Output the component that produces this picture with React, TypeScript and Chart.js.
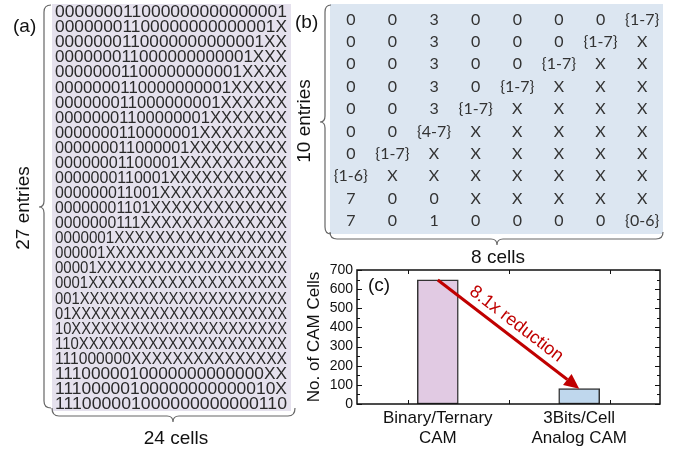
import React, { useEffect, useRef } from "react";
import { Chart, registerables } from "chart.js";

Chart.register(...registerables);

// ---------- Data ----------
const binaryEntries: string[] = [
  "000000011000000000000001",
  "00000001100000000000001X",
  "0000000110000000000001XX",
  "000000011000000000001XXX",
  "00000001100000000001XXXX",
  "0000000110000000001XXXXX",
  "000000011000000001XXXXXX",
  "00000001100000001XXXXXXX",
  "0000000110000001XXXXXXXX",
  "000000011000001XXXXXXXXX",
  "00000001100001XXXXXXXXXX",
  "0000000110001XXXXXXXXXXX",
  "000000011001XXXXXXXXXXXX",
  "00000001101XXXXXXXXXXXXX",
  "0000000111XXXXXXXXXXXXXX",
  "0000001XXXXXXXXXXXXXXXXX",
  "000001XXXXXXXXXXXXXXXXXX",
  "00001XXXXXXXXXXXXXXXXXXX",
  "0001XXXXXXXXXXXXXXXXXXXX",
  "001XXXXXXXXXXXXXXXXXXXXX",
  "01XXXXXXXXXXXXXXXXXXXXXX",
  "10XXXXXXXXXXXXXXXXXXXXXX",
  "110XXXXXXXXXXXXXXXXXXXXX",
  "111000000XXXXXXXXXXXXXXX",
  "1110000010000000000000XX",
  "11100000100000000000010X",
  "111000001000000000000110",
];

const analogEntries: string[][] = [
  ["0", "0", "3", "0", "0", "0", "0", "{1-7}"],
  ["0", "0", "3", "0", "0", "0", "{1-7}", "X"],
  ["0", "0", "3", "0", "0", "{1-7}", "X", "X"],
  ["0", "0", "3", "0", "{1-7}", "X", "X", "X"],
  ["0", "0", "3", "{1-7}", "X", "X", "X", "X"],
  ["0", "0", "{4-7}", "X", "X", "X", "X", "X"],
  ["0", "{1-7}", "X", "X", "X", "X", "X", "X"],
  ["{1-6}", "X", "X", "X", "X", "X", "X", "X"],
  ["7", "0", "0", "X", "X", "X", "X", "X"],
  ["7", "0", "1", "0", "0", "0", "0", "{0-6}"],
];

const categories: string[][] = [
  ["Binary/Ternary", "CAM"],
  ["3Bits/Cell", "Analog CAM"],
];
const cellCounts: number[] = [648, 80];
const barPositions: number[] = [0.8, 2.2];
const xMinorTicks: number[] = [0.5, 1.5, 2.5];
const barColors: string[] = ["#e1cae3", "#bfd7ed"];
const reductionLabel = "8.1x reduction";

const FONT = "'Liberation Sans', Arial, sans-serif";

function vBrace(x: number, y1: number, y2: number, tipX: number, tipY: number, curl: number) {
  return `M ${x + curl} ${y1} Q ${x} ${y1} ${x} ${y1 + 7} L ${x} ${tipY - 6} Q ${x} ${tipY} ${tipX} ${tipY} Q ${x} ${tipY} ${x} ${tipY + 6} L ${x} ${y2 - 7} Q ${x} ${y2} ${x + curl} ${y2}`;
}
function hBrace(y: number, x1: number, x2: number, tipX: number, tipY: number, curl: number) {
  return `M ${x1} ${y - curl} Q ${x1} ${y} ${x1 + 7} ${y} L ${tipX - 6} ${y} Q ${tipX} ${y} ${tipX} ${tipY} Q ${tipX} ${y} ${tipX + 6} ${y} L ${x2 - 7} ${y} Q ${x2} ${y} ${x2} ${y - curl}`;
}

export default function App() {
  const canvasRef = useRef<HTMLCanvasElement | null>(null);

  useEffect(() => {
    if (!canvasRef.current) return;
    const framePlugin = {
      id: "framePlugin",
      afterDraw(chart: any) {
        const { ctx, chartArea } = chart;
        const { left, right, top, bottom } = chartArea;
        const xs = chart.scales.x;
        const ys = chart.scales.y;
        ctx.save();
        // frame
        ctx.strokeStyle = "#111";
        ctx.lineWidth = 1.5;
        ctx.strokeRect(left, top, right - left, bottom - top);
        // y ticks
        ctx.lineWidth = 1;
        for (let v = 0; v <= 700; v += 50) {
          const y = Math.round(ys.getPixelForValue(v)) + 0.5;
          const len = v % 100 === 0 ? 5 : 3;
          ctx.beginPath();
          ctx.moveTo(left, y);
          ctx.lineTo(left + len, y);
          ctx.moveTo(right, y);
          ctx.lineTo(right - len, y);
          ctx.stroke();
        }
        // x ticks
        xMinorTicks.forEach((v) => {
          const x = Math.round(xs.getPixelForValue(v)) + 0.5;
          ctx.beginPath();
          ctx.moveTo(x, bottom);
          ctx.lineTo(x, bottom - 4);
          ctx.moveTo(x, top);
          ctx.lineTo(x, top + 4);
          ctx.stroke();
        });
        // arrow
        const x1 = xs.getPixelForValue(barPositions[0]);
        const y1 = ys.getPixelForValue(cellCounts[0]);
        const x2 = xs.getPixelForValue(barPositions[1]);
        const y2 = ys.getPixelForValue(cellCounts[1]);
        const ang = Math.atan2(y2 - y1, x2 - x1);
        const head = 15;
        const hw = 7;
        const bx = x2 - head * Math.cos(ang);
        const by = y2 - head * Math.sin(ang);
        ctx.strokeStyle = "#c00000";
        ctx.fillStyle = "#c00000";
        ctx.lineWidth = 3;
        ctx.beginPath();
        ctx.moveTo(x1, y1);
        ctx.lineTo(bx, by);
        ctx.stroke();
        ctx.beginPath();
        ctx.moveTo(x2, y2);
        ctx.lineTo(bx + hw * Math.sin(ang), by - hw * Math.cos(ang));
        ctx.lineTo(bx - hw * Math.sin(ang), by + hw * Math.cos(ang));
        ctx.closePath();
        ctx.fill();
        // label
        const mx = (x1 + x2) / 2 + 13 * Math.sin(ang);
        const my = (y1 + y2) / 2 - 13 * Math.cos(ang);
        ctx.translate(mx, my);
        ctx.rotate(ang);
        ctx.font = `18px ${FONT}`;
        ctx.textAlign = "center";
        ctx.textBaseline = "middle";
        ctx.fillText(reductionLabel, 0, 0);
        ctx.restore();
        // (c)
        ctx.save();
        ctx.fillStyle = "#111";
        ctx.font = `19px ${FONT}`;
        ctx.textAlign = "left";
        ctx.textBaseline = "middle";
        ctx.fillText("(c)", left + 11, top + 16);
        ctx.restore();
      },
    };

    const chart = new Chart(canvasRef.current, {
      type: "bar",
      data: {
        datasets: [
          {
            data: barPositions.map((x, i) => ({ x, y: cellCounts[i] })),
            backgroundColor: barColors,
            borderColor: "#333",
            borderWidth: 1.5,
            borderSkipped: false,
            barThickness: 41,
          } as any,
        ],
      },
      options: {
        animation: false,
        responsive: false,
        layout: { padding: { left: 0, top: 20, right: 15, bottom: 0 } },
        plugins: { legend: { display: false }, tooltip: { enabled: false } },
        scales: {
          x: {
            type: "linear",
            min: 0,
            max: 3,
            offset: false,
            grid: { display: false, drawTicks: false, offset: false },
            border: { display: false },
            afterBuildTicks: (s: any) => {
              s.ticks = barPositions.map((v) => ({ value: v }));
            },
            afterFit: (s: any) => {
              s.height = 45;
            },
            ticks: {
              autoSkip: false,
              maxRotation: 0,
              padding: 4,
              color: "#111",
              font: { family: FONT, size: 17, lineHeight: 1.18 },
              callback: (_v: any, i: number) => categories[i],
            },
          },
          y: {
            min: 0,
            max: 700,
            grid: { display: false, drawTicks: false },
            border: { display: false },
            afterFit: (s: any) => {
              s.width = 57;
            },
            ticks: {
              stepSize: 100,
              autoSkip: false,
              padding: 4,
              color: "#111",
              font: { family: FONT, size: 14 },
            },
            title: {
              display: true,
              text: "No. of CAM Cells",
              color: "#111",
              font: { family: FONT, size: 17 },
              padding: { top: 4, bottom: 0 },
            },
          },
        },
      } as any,
      plugins: [framePlugin],
    });
    return () => chart.destroy();
  }, []);

  const aTop = 4;
  const aBottom = 411;
  const aRowH = (aBottom - aTop) / binaryEntries.length;
  const bLeft = 330;
  const bRight = 663;
  const bColW = (bRight - bLeft) / 8;

  return (
    <div
      style={{
        position: "absolute",
        left: 0,
        top: 0,
        width: 675,
        height: 449,
        background: "#fff",
        fontFamily: FONT,
      }}
    >
      <canvas
        ref={canvasRef}
        width={375}
        height={199}
        style={{ position: "absolute", left: 300, top: 250, width: 375, height: 199 }}
      />
      <svg
        width={675}
        height={449}
        style={{ position: "absolute", left: 0, top: 0, pointerEvents: "none" }}
      >
        {/* Panel (a) */}
        <rect x={52} y={aTop} width={239} height={aBottom - aTop} fill="#e5e1ed" />
        {binaryEntries.map((row, i) => (
          <text
            key={"a" + i}
            x={55}
            y={aTop + aRowH * (i + 0.5) + 5.6}
            fontSize={16}
            fill="#2a2a2a"
            fontFamily={FONT}
            textLength={232}
            lengthAdjust="spacingAndGlyphs"
          >
            {row}
          </text>
        ))}
        <path d={vBrace(44, 5, 408, 39, 207, 7)} fill="none" stroke="#666" strokeWidth={1.2} />
        <path d={hBrace(416, 52, 295, 173, 422, 8)} fill="none" stroke="#666" strokeWidth={1.2} />
        <text x={13} y={32} fontSize={19} fill="#111" fontFamily={FONT}>
          (a)
        </text>
        <text
          transform="translate(22,208) rotate(-90)"
          textAnchor="middle"
          dy="0.36em"
          fontSize={19}
          fill="#111"
          fontFamily={FONT}
        >
          27 entries
        </text>
        <text x={176} y={444} textAnchor="middle" fontSize={19} fill="#111" fontFamily={FONT}>
          24 cells
        </text>

        {/* Panel (b) */}
        <rect x={bLeft} y={4} width={bRight - bLeft} height={230} fill="#dce6f1" />
        {analogEntries.map((row, r) =>
          row.map((cell, c) => (
            <text
              key={`b${r}-${c}`}
              x={bLeft + bColW * (c + 0.5)}
              y={19 + 22.4 * r + 5.6}
              textAnchor="middle"
              fontSize={16}
              fill="#333"
              fontFamily="Lato, 'Open Sans', sans-serif"
            >
              {cell}
            </text>
          ))
        )}
        <path d={vBrace(325, 5, 234, 320, 122, 6)} fill="none" stroke="#666" strokeWidth={1.2} />
        <path d={hBrace(239, 330, 663, 497, 245, 7)} fill="none" stroke="#666" strokeWidth={1.2} />
        <text x={295} y={28} fontSize={19} fill="#111" fontFamily={FONT}>
          (b)
        </text>
        <text
          transform="translate(303,121) rotate(-90)"
          textAnchor="middle"
          dy="0.36em"
          fontSize={19}
          fill="#111"
          fontFamily={FONT}
        >
          10 entries
        </text>
        <text x={498} y={263} textAnchor="middle" fontSize={19} fill="#111" fontFamily={FONT}>
          8 cells
        </text>
      </svg>
    </div>
  );
}
